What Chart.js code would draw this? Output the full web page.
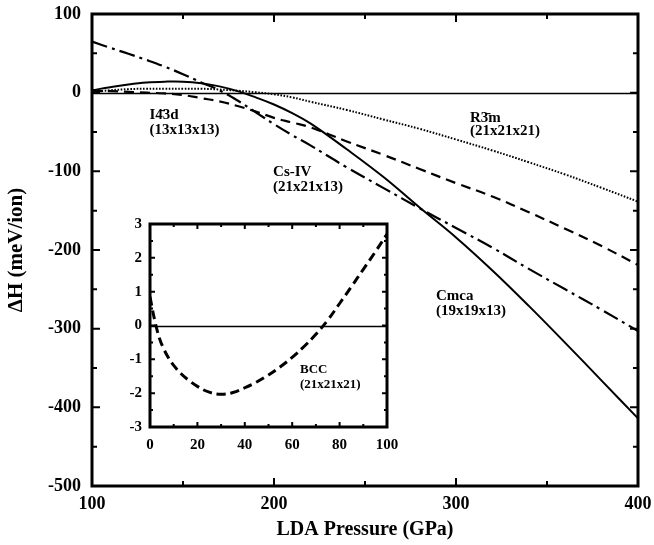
<!DOCTYPE html>
<html><head><meta charset="utf-8">
<script src="https://cdn.jsdelivr.net/npm/chart.js@4.4.1/dist/chart.umd.min.js"></script>
<style>
html,body{margin:0;padding:0;background:#fff;}
#wrap{position:relative;width:654px;height:545px;overflow:hidden;}
#main{position:absolute;left:0;top:0;}
#inset{position:absolute;left:100px;top:214px;}
</style></head><body>
<div id="wrap"><canvas id="main" width="654" height="545"></canvas><canvas id="inset" width="300" height="250"></canvas></div>
<script>
// ---------- data ----------
const pressure = [100,110,120,130,140,150,160,170,180,190,200,210,220,240,260,280,300,320,340,360,380,400];
const cmca     = [3,7,10.5,13,14,14,12,8,2,-6,-15,-26,-39,-72,-107,-146,-184,-226,-271,-318,-366,-414];
const i43d     = [2,2,1,0,-1,-3,-7,-11,-17,-24,-32,-38,-44,-62,-79,-97,-115,-132,-152,-173,-195,-219];
const csIV     = [65,57,49.5,41.5,33,23.5,13,3,-10,-25,-40,-54,-67,-95,-121,-147,-172,-197,-224,-250,-276,-303];
const r3m      = [1,3,4.5,5,5,5,5,4,2.5,0.5,-2,-6,-11.5,-22,-34,-46,-59.5,-73.5,-88.5,-104,-121,-138.5];

const bccPressure = [0,2,4,6,8,10,13,16,20,25,30,35,40,45,50,55,60,65,70,75,80,85,90,95,100];
const bcc         = [0.85,0.15,-0.38,-0.72,-0.98,-1.18,-1.42,-1.6,-1.8,-1.97,-2.03,-1.98,-1.84,-1.67,-1.46,-1.22,-0.94,-0.62,-0.26,0.16,0.65,1.15,1.66,2.17,2.7];

const mainYTicks = [-500,-400,-300,-200,-100,0,100];
const mainXTicks = [100,200,300,400];
const insetXTicks = [0,20,40,60,80,100];
const insetYTicks = [-3,-2,-1,0,1,2,3];

const phaseLabels = [
  {lines:['I4\u03043d','(13x13x13)'], x:131.6, y:-34, dy:-18.5},
  {lines:['Cs-IV','(21x21x13)'], x:199.5, y:-105.5, dy:-19.5},
  {lines:['R3\u0304m','(21x21x21)'], x:307.7, y:-37.2, dy:-17},
  {lines:['Cmca','(19x19x13)'], x:289, y:-263.5, dy:-19}
];
const bccLabel = {lines:['BCC','(21x21x21)'], x:63.3, y:-1.39, dy:-0.45};

// ---------- helpers ----------
const FAM = '"Liberation Serif", "Times New Roman", serif';
const pts = (xs, ys) => xs.map((v,i)=>({x:v, y:ys[i]}));
const noPad = s => { s.paddingLeft = 0; s.paddingRight = 0; s.paddingTop = 0; s.paddingBottom = 0; };

const frameTicks = {
  id:'frameTicks',
  beforeDatasetsDraw(chart, args, o){
    const {ctx, chartArea:a, scales:{y}} = chart;
    ctx.save();
    ctx.strokeStyle='#000'; ctx.lineWidth=o.zeroWidth;
    const y0 = Math.round(y.getPixelForValue(0))+0.5;
    ctx.beginPath(); ctx.moveTo(a.left,y0); ctx.lineTo(a.right,y0); ctx.stroke();
    ctx.restore();
  },
  afterDraw(chart, args, o){
    const {ctx, chartArea:a, scales:{x,y}} = chart;
    ctx.save();
    ctx.strokeStyle='#000';
    ctx.lineWidth=o.tickWidth;
    ctx.beginPath();
    const isMajor = (v, step, base) => Math.abs((v-base)/step - Math.round((v-base)/step)) < 1e-6;
    for (let v = x.min + o.xMinor; v < x.max - 1e-9; v += o.xMinor) {
      const L = isMajor(v,o.xMajor,x.min) ? o.majorLen : o.minorLen;
      const px = x.getPixelForValue(v);
      ctx.moveTo(px,a.bottom); ctx.lineTo(px,a.bottom-L);
      ctx.moveTo(px,a.top); ctx.lineTo(px,a.top+L);
    }
    for (let v = y.min + o.yMinor; v < y.max - 1e-9; v += o.yMinor) {
      const L = isMajor(v,o.yMajor,y.min) ? o.majorLen : o.minorLen;
      const py = y.getPixelForValue(v);
      ctx.moveTo(a.left,py); ctx.lineTo(a.left+L,py);
      ctx.moveTo(a.right,py); ctx.lineTo(a.right-L,py);
    }
    ctx.stroke();
    ctx.lineWidth=o.frameWidth;
    ctx.strokeRect(a.left,a.top,a.right-a.left,a.bottom-a.top);
    ctx.restore();
  }
};

const textLabels = {
  id:'textLabels',
  afterDatasetsDraw(chart, args, o){
    const {ctx, scales:{x,y}} = chart;
    ctx.save();
    ctx.fillStyle='#000'; ctx.textAlign='left'; ctx.textBaseline='alphabetic';
    ctx.font = o.font;
    for (const it of o.items){
      it.lines.forEach((t,k)=>{
        ctx.fillText(t, x.getPixelForValue(it.x), y.getPixelForValue(it.y + k*it.dy));
      });
    }
    ctx.restore();
  }
};

const whiteBg = {
  id:'whiteBg',
  beforeDraw(chart){
    const ctx = chart.ctx; ctx.save(); ctx.fillStyle='#fff';
    ctx.fillRect(0,0,chart.width,chart.height); ctx.restore();
  }
};

const lineDs = (data, dash, width) => ({
  data, borderColor:'#000', borderWidth:width, borderDash:dash,
  pointRadius:0, fill:false, tension:0.4, borderCapStyle:'butt'
});

// ---------- main chart ----------
new Chart(document.getElementById('main'), {
  type:'line',
  data:{ datasets:[
    lineDs(pts(pressure, r3m), [1.6,1.6], 2),
    lineDs(pts(pressure, i43d), [10,6], 2.2),
    lineDs(pts(pressure, csIV), [16,5,3,5], 2.2),
    lineDs(pts(pressure, cmca), [], 2)
  ]},
  options:{
    responsive:false, animation:false, events:[],
    layout:{padding:{top:14,right:16,left:0,bottom:0}},
    plugins:{
      legend:{display:false}, tooltip:{enabled:false},
      frameTicks:{xMajor:100,xMinor:50,yMajor:100,yMinor:50,majorLen:8,minorLen:5,tickWidth:2,frameWidth:3,zeroWidth:1.3},
      textLabels:{font:'bold 15px '+FAM, items:phaseLabels}
    },
    scales:{
      x:{type:'linear', min:100, max:400,
         afterBuildTicks(s){ s.ticks = mainXTicks.map(v=>({value:v})); },
         ticks:{padding:8, color:'#000', font:{family:FAM,size:18,weight:'bold'}, maxRotation:0},
         grid:{display:false, drawTicks:false}, border:{display:false},
         title:{display:true, text:'LDA Pressure (GPa)', color:'#000', font:{family:FAM,size:20,weight:'bold'}, padding:{top:0,bottom:3}},
         afterFit(s){ s.height = 59; noPad(s); }},
      y:{type:'linear', min:-500, max:100,
         afterBuildTicks(s){ s.ticks = mainYTicks.map(v=>({value:v})); },
         ticks:{padding:11, color:'#000', font:{family:FAM,size:18,weight:'bold'}},
         grid:{display:false, drawTicks:false}, border:{display:false},
         title:{display:true, text:'\u0394H (meV/ion)', color:'#000', font:{family:FAM,size:21,weight:'bold'}, padding:{top:4,bottom:0}},
         afterFit(s){ s.width = 92; noPad(s); }}
    }
  },
  plugins:[frameTicks, textLabels]
});

// ---------- inset chart ----------
new Chart(document.getElementById('inset'), {
  type:'line',
  data:{ datasets:[ lineDs(pts(bccPressure, bcc), [9,5], 3) ]},
  options:{
    responsive:false, animation:false, events:[],
    layout:{padding:{top:10,right:13,left:0,bottom:0}},
    plugins:{
      legend:{display:false}, tooltip:{enabled:false},
      frameTicks:{xMajor:20,xMinor:10,yMajor:1,yMinor:0.5,majorLen:5,minorLen:3,tickWidth:2,frameWidth:3,zeroWidth:1.3},
      textLabels:{font:'bold 13px '+FAM, items:[bccLabel]}
    },
    scales:{
      x:{type:'linear', min:0, max:100,
         afterBuildTicks(s){ s.ticks = insetXTicks.map(v=>({value:v})); },
         ticks:{padding:9, color:'#000', font:{family:FAM,size:15,weight:'bold'}, maxRotation:0},
         grid:{display:false, drawTicks:false}, border:{display:false},
         afterFit(s){ s.height = 37; noPad(s); }},
      y:{type:'linear', min:-3, max:3,
         afterBuildTicks(s){ s.ticks = insetYTicks.map(v=>({value:v})); },
         ticks:{padding:8, color:'#000', font:{family:FAM,size:15,weight:'bold'}},
         grid:{display:false, drawTicks:false}, border:{display:false},
         afterFit(s){ s.width = 50; noPad(s); }}
    }
  },
  plugins:[whiteBg, frameTicks, textLabels]
});
</script>
</body></html>
